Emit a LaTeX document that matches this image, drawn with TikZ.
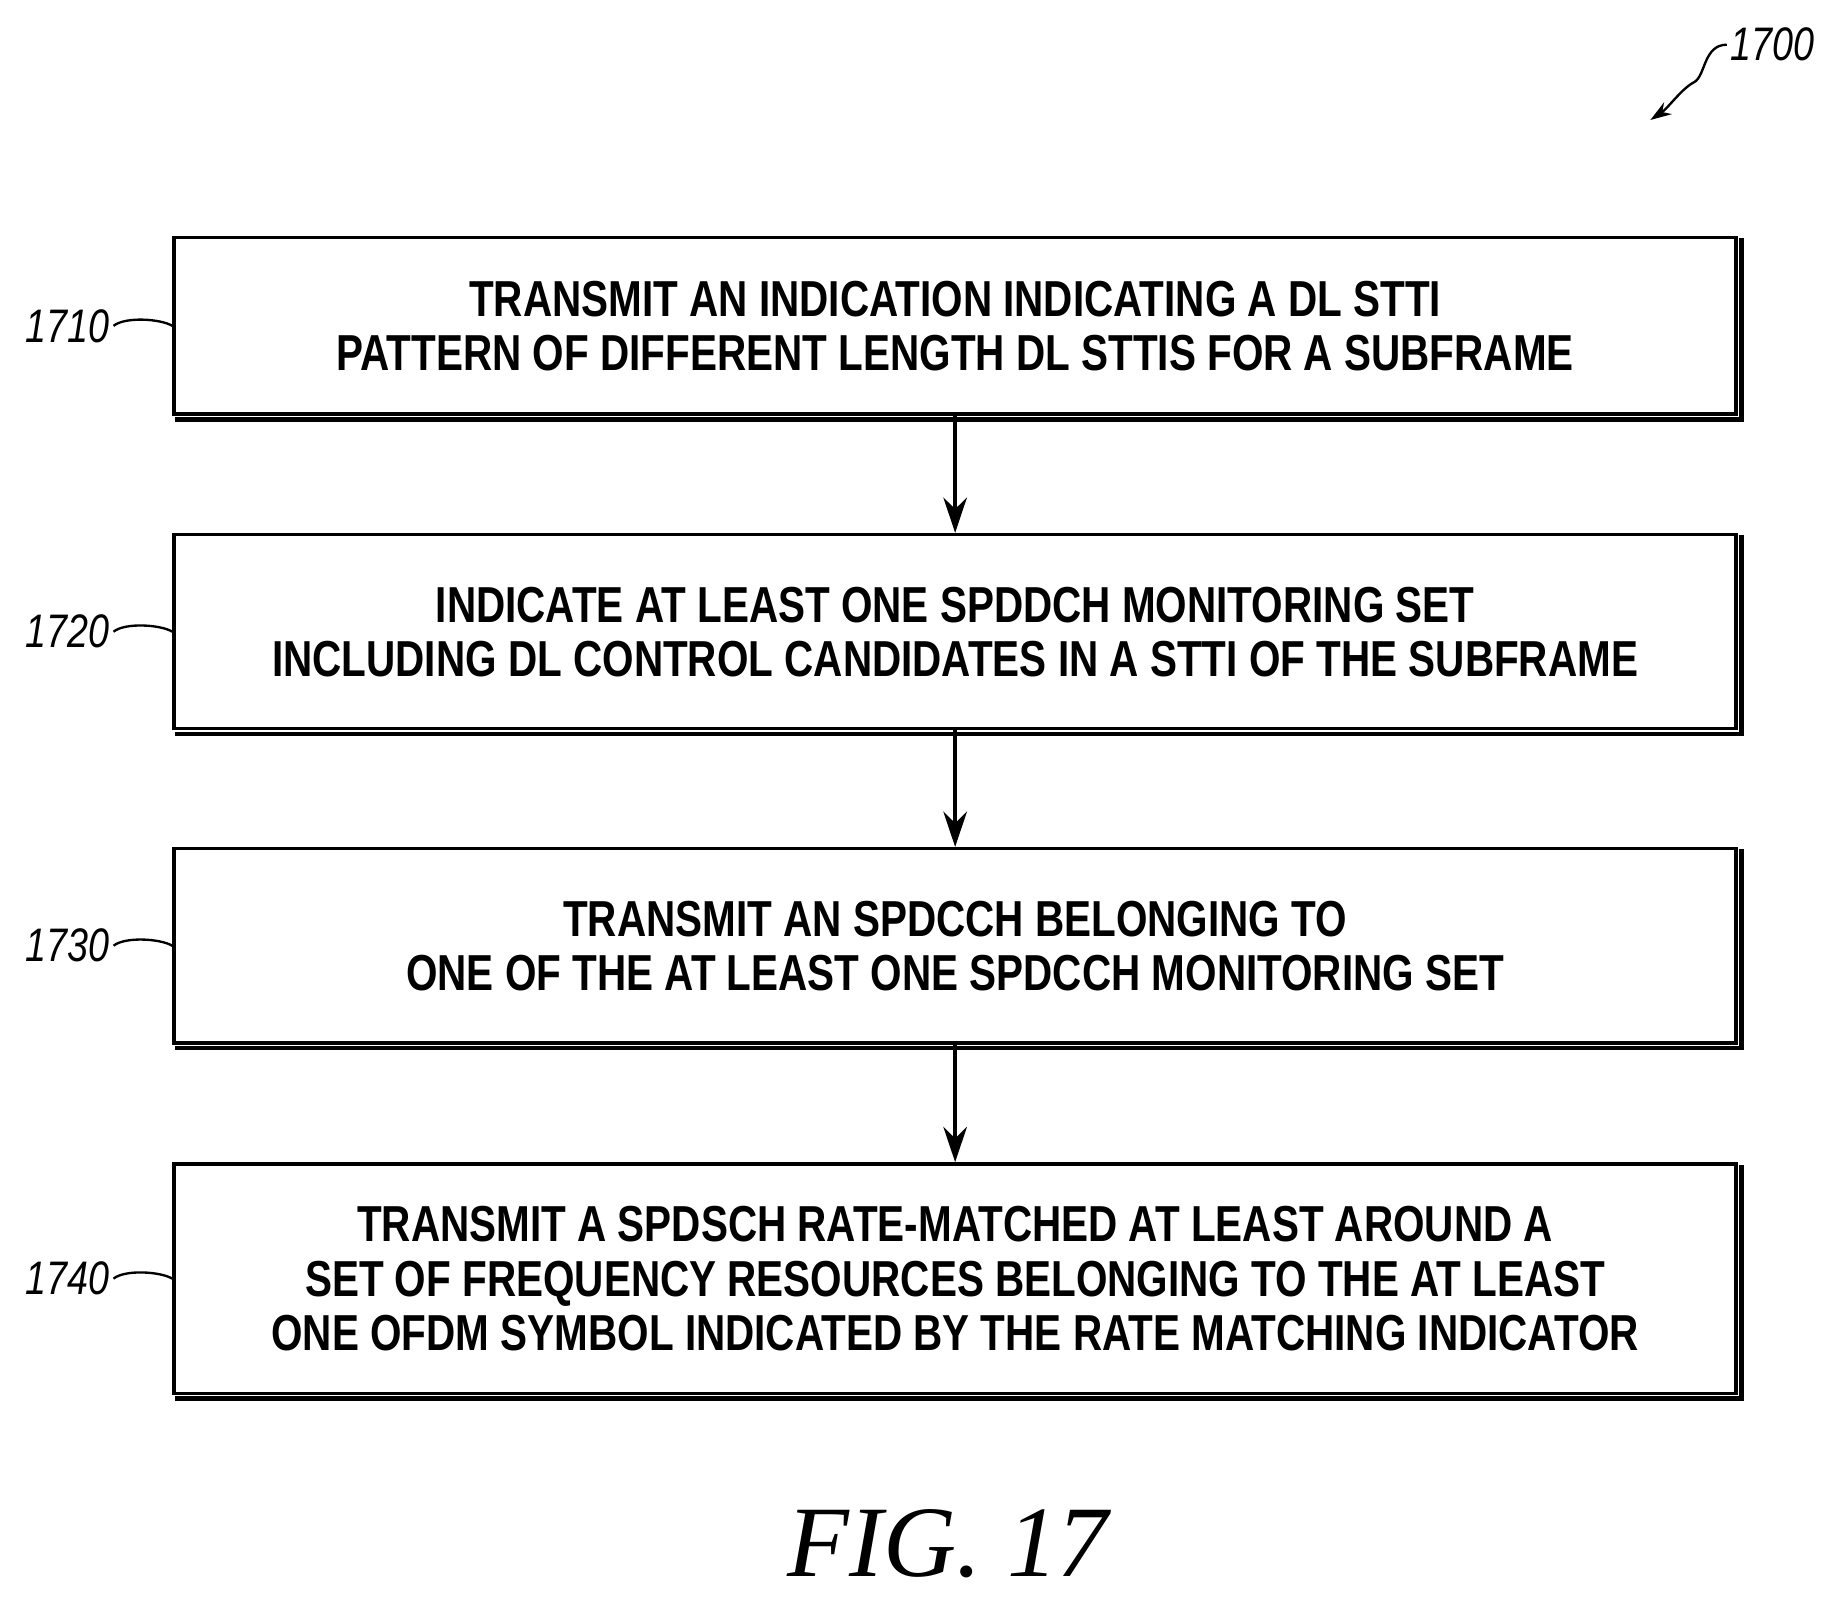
\documentclass[tikz,border=0pt]{standalone}
\usepackage{fontspec}
\setmainfont{Liberation Serif}
\setsansfont{Liberation Sans}[FakeStretch=0.80]
\usetikzlibrary{arrows.meta}
\begin{document}
\begin{tikzpicture}[x=1pt,y=-1pt,
  box/.style={draw,line width=3pt,minimum width=1328pt,align=center,font=\sffamily\bfseries\fontsize{43}{46}\selectfont,inner sep=0pt},
  lab/.style={font=\sffamily\itshape\fontsize{40}{40}\selectfont},
  arr/.style={line width=3pt,-{Stealth[length=30pt,width=20pt]}}]
\useasboundingbox (0,0) rectangle (1560,1361);
\node[box,minimum height=150pt] (b1) at (812,277) {TRANSMIT AN INDICATION INDICATING A DL STTI\\PATTERN OF DIFFERENT LENGTH DL STTIS FOR A SUBFRAME};
\node[box,minimum height=165pt] (b2) at (812,537) {INDICATE AT LEAST ONE SPDDCH MONITORING SET\\INCLUDING DL CONTROL CANDIDATES IN A STTI OF THE SUBFRAME};
\node[box,minimum height=165pt] (b3) at (812,804) {TRANSMIT AN SPDCCH BELONGING TO\\ONE OF THE AT LEAST ONE SPDCCH MONITORING SET};
\node[box,minimum height=195pt] (b4) at (812,1087) {TRANSMIT A SPDSCH RATE-MATCHED AT LEAST AROUND A\\SET OF FREQUENCY RESOURCES BELONGING TO THE AT LEAST\\ONE OFDM SYMBOL INDICATED BY THE RATE MATCHING INDICATOR};
\foreach \b in {b1,b2,b3,b4}{
  \draw[line width=4pt] ([xshift=2pt,yshift=-3pt]\b.south west) -- ([xshift=3pt,yshift=-3pt]\b.south east) -- ([xshift=3pt,yshift=-2pt]\b.north east);}
\draw[arr] (b1.south) -- (b2.north);
\draw[arr] (b2.south) -- (b3.north);
\draw[arr] (b3.south) -- (b4.north);
\foreach \b/\t in {b1/1710,b2/1720,b3/1730,b4/1740}{
  \node[lab,anchor=east] (l\t) at ([xshift=-50pt]\b.west) {\t};
  \draw[line width=2pt] (l\t.east) .. controls +(10,-8) and +(-10,-6) .. (\b.west);}
\node[lab,anchor=west] (l1700) at (1468,38) {1700};
\coordinate (e1700) at (1403,102);
\draw[line width=2pt,-{Stealth[length=18pt,width=12pt]}] (l1700.west) .. controls +(-20,0) and +(10,-5) .. (1440,70) .. controls +(-10,5) and +(15,-10) .. (e1700);
\node[font=\itshape\fontsize{86}{86}\selectfont] (fig) at (806,1312) {FIG. 17};
\end{tikzpicture}
\end{document}
